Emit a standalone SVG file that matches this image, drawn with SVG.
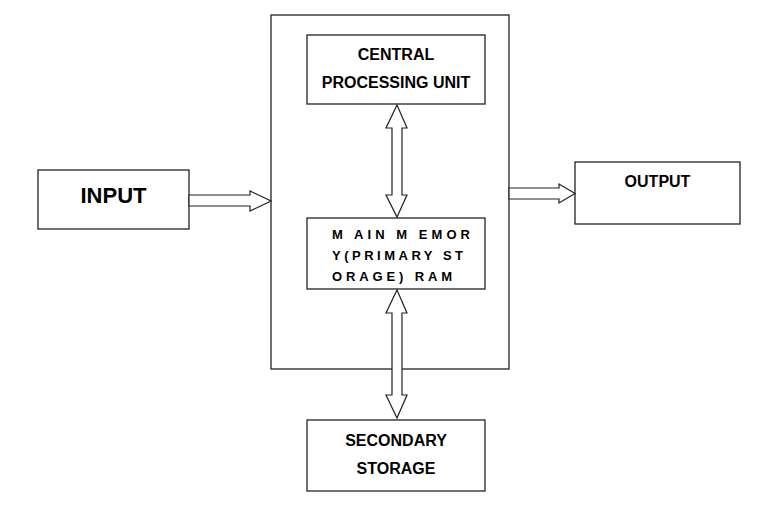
<svg xmlns="http://www.w3.org/2000/svg" width="783" height="531" viewBox="0 0 783 531">
<style>
.box{fill:#fff;stroke:#222;stroke-width:1.3}
.arr{fill:#fff;stroke:#222;stroke-width:1.2;stroke-linejoin:miter}
text{font-family:"Liberation Sans",Arial,sans-serif;font-weight:bold;fill:#000}
.c{text-anchor:middle;font-size:16px}
.m{font-size:13px}
</style>
<rect width="783" height="531" fill="#fff"/>
<g id="computer"><rect class="box" x="271" y="15" width="238" height="354"/></g>
<g id="cpu"><rect class="box" x="307" y="35" width="178" height="69"/>
<text class="c" x="396" y="60">CENTRAL</text>
<text class="c" x="396" y="88">PROCESSING UNIT</text></g>
<g id="memory"><rect class="box" x="307" y="218" width="178" height="71"/>
<text class="m" x="332" y="239" textLength="138" lengthAdjust="spacing">M AIN M EMOR</text>
<text class="m" x="332" y="260" textLength="131" lengthAdjust="spacing">Y(PRIMARY ST</text>
<text class="m" x="332" y="281" textLength="120" lengthAdjust="spacing">ORAGE) RAM</text></g>
<g id="input"><rect class="box" x="38" y="170" width="151" height="59"/>
<text class="c" x="113.5" y="203" style="font-size:22px">INPUT</text></g>
<g id="output"><rect class="box" x="575" y="162" width="165" height="62"/>
<text class="c" x="657.5" y="187">OUTPUT</text></g>
<g id="secondary"><rect class="box" x="307" y="420" width="178" height="71"/>
<text class="c" x="396" y="446">SECONDARY</text>
<text class="c" x="396" y="474">STORAGE</text></g>
<g id="connectors">
<polygon class="arr" points="189,195 250,195 250,191 271,201 250,211 250,206 189,206"/>
<polygon class="arr" points="509,188 559,188 559,184 575,193.5 559,203 559,199 509,199"/>
<polygon class="arr" points="397,105 407,128 402,128 402,195 407,195 397,217 386,195 392,195 392,128 386,128"/>
<polygon class="arr" points="397,290 407,313 402,313 402,395 407,395 397,418 386,395 392,395 392,313 386,313"/>
</g>
</svg>
